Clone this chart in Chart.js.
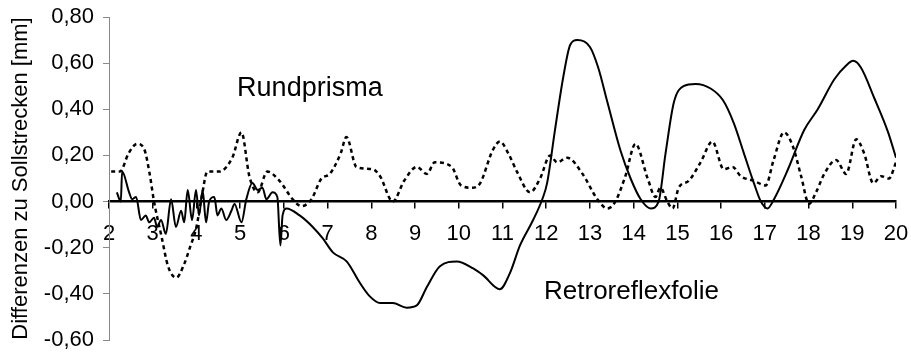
<!DOCTYPE html>
<html>
<head>
<meta charset="utf-8">
<script src="https://cdn.jsdelivr.net/npm/chart.js@4"></script>
<style>
  html, body { margin: 0; padding: 0; background: #fff; }
  #wrap { width: 911px; height: 354px; }
</style>
</head>
<body>
<div id="wrap"><canvas id="chart" width="911" height="354"></canvas></div>
<script>
// ----- data -----
const prismaX = [2.05, 2.25, 2.45, 2.64, 2.8, 2.93, 3.03, 3.2, 3.35, 3.54, 3.7, 3.85, 4.0, 4.12, 4.25, 4.52, 4.82, 5.03,
  5.21, 5.4, 5.62, 5.9, 6.2, 6.4, 6.63, 6.86, 7.05, 7.3, 7.43, 7.66, 8.03, 8.2, 8.49, 8.75, 9.04, 9.27, 9.45, 9.84,
  10.05, 10.3, 10.49, 10.77, 10.94, 11.13, 11.33, 11.63, 11.86, 12.09, 12.25, 12.48, 12.83, 13.17, 13.4, 13.58, 13.81,
  14.04, 14.32, 14.5, 14.61, 14.77, 14.89, 15.03, 15.26, 15.53, 15.8, 16.06, 16.26, 16.45, 16.75, 17.02, 17.2, 17.44,
  17.64, 17.83, 18.01, 18.17, 18.36, 18.63, 18.86, 19.09, 19.27, 19.48, 19.66, 19.84, 20.0];
const prismaY = [0.13, 0.13, 0.21, 0.25, 0.23, 0.12, 0.0, -0.15, -0.28, -0.33, -0.28, -0.2, -0.11, 0.02, 0.13, 0.13, 0.19, 0.30,
  0.11, 0.04, 0.13, 0.09, 0.01, -0.02, 0.01, 0.1, 0.12, 0.21, 0.28, 0.15, 0.14, 0.11, 0.0, 0.09, 0.15, 0.12, 0.17, 0.15,
  0.07, 0.06, 0.08, 0.22, 0.26, 0.21, 0.13, 0.04, 0.1, 0.2, 0.17, 0.19, 0.12, 0.01, -0.03, 0.0, 0.11,
  0.25, 0.1, 0.02, 0.06, 0.0, -0.03, 0.06, 0.09, 0.17, 0.26, 0.14, 0.15, 0.11, 0.09, 0.07, 0.18, 0.30,
  0.24, 0.11, -0.01, 0.04, 0.12, 0.18, 0.12, 0.27, 0.21, 0.08, 0.11, 0.1, 0.17];

const folieX = [2.18, 2.27, 2.3, 2.46, 2.53, 2.62, 2.73, 2.84, 2.92, 3.03, 3.1, 3.19, 3.3, 3.42, 3.53, 3.65, 3.72, 3.8,
  3.9, 3.99, 4.06, 4.14, 4.22, 4.29, 4.41, 4.48, 4.57, 4.68, 4.8, 4.87, 5.03, 5.14, 5.28, 5.4, 5.51, 5.6, 5.74, 5.85,
  5.92, 5.97, 6.06, 6.36, 6.66, 6.89, 7.12, 7.44, 7.73, 7.96, 8.2, 8.49, 8.81, 9.04, 9.27, 9.57, 9.95, 10.33, 10.56,
  10.94, 11.17, 11.4, 11.7, 11.91, 12.02, 12.2, 12.39, 12.55, 12.71, 13.0, 13.19, 13.4, 13.7, 13.93, 14.16, 14.39,
  14.57, 14.73, 14.92, 15.14, 15.42, 15.76, 16.04, 16.29, 16.52, 16.75, 16.91, 17.06, 17.21, 17.53, 17.9, 18.21,
  18.59, 18.86, 19.02, 19.2, 19.5, 19.82, 20.0];
const folieY = [0.04, 0.0, 0.13, 0.04, 0.01, 0.02, -0.08, -0.06, -0.09, -0.07, -0.11, -0.08, -0.14, 0.01, -0.11, -0.04, -0.09, 0.05,
  -0.08, 0.05, -0.06, 0.05, -0.09, 0.0, 0.02, -0.06, -0.03, -0.08, -0.04, -0.01, -0.09, 0.01, 0.08, 0.05, 0.06, 0.01, 0.04, 0.02,
  -0.19, -0.06, -0.03, -0.06, -0.11, -0.16, -0.22, -0.26, -0.35, -0.41, -0.44, -0.44, -0.46, -0.45, -0.37, -0.28, -0.26, -0.29, -0.32,
  -0.38, -0.31, -0.19, -0.08, 0.01, 0.08, 0.31, 0.54, 0.68, 0.70, 0.67, 0.58, 0.43, 0.22, 0.1, 0.01, -0.03,
  0.0, 0.21, 0.43, 0.50, 0.51, 0.49, 0.44, 0.34, 0.21, 0.08, 0.0, -0.03, 0.01, 0.14, 0.31, 0.40,
  0.53, 0.59, 0.61, 0.58, 0.45, 0.3, 0.19];

const seriesNames = ['Rundprisma', 'Retroreflexfolie'];
const yTitle = 'Differenzen zu Sollstrecken [mm]';

const fontFamily = "'Liberation Sans', Arial, Helvetica, sans-serif";

// zip x/y arrays into points
const toPoints = (xs, ys) => xs.map((x, i) => ({ x: x, y: ys[i] }));

// series names written inside the plot
const seriesLabels = {
  id: 'seriesLabels',
  afterDatasetsDraw(chart) {
    const { ctx, scales: { x, y } } = chart;
    ctx.save();
    ctx.fillStyle = '#000';
    ctx.textAlign = 'left';
    ctx.textBaseline = 'alphabetic';
    ctx.font = '27px ' + fontFamily;
    ctx.fillText(seriesNames[0], x.getPixelForValue(4.93), y.getPixelForValue(0.456));
    ctx.font = '26px ' + fontFamily;
    ctx.fillText(seriesNames[1], x.getPixelForValue(11.95), y.getPixelForValue(-0.422));
    ctx.restore();
  }
};

const ctx = document.getElementById('chart').getContext('2d');
new Chart(ctx, {
  type: 'line',
  data: {
    datasets: [
      {
        label: seriesNames[0],
        data: toPoints(prismaX, prismaY),
        borderColor: '#000',
        borderWidth: 2.5,
        borderDash: [4, 3.5],
        pointRadius: 0,
        cubicInterpolationMode: 'monotone',
        fill: false
      },
      {
        label: seriesNames[1],
        data: toPoints(folieX, folieY),
        borderColor: '#000',
        borderWidth: 2,
        pointRadius: 0,
        cubicInterpolationMode: 'monotone',
        fill: false
      }
    ]
  },
  options: {
    responsive: false,
    animation: false,
    events: [],
    layout: { padding: { top: 17, right: 15, bottom: 14, left: 0 } },
    plugins: {
      legend: { display: false },
      tooltip: { enabled: false }
    },
    scales: {
      x: {
        type: 'linear',
        position: { y: 0 },
        min: 2,
        max: 20,
        afterFit: (scale) => { scale.paddingLeft = 0; scale.paddingRight = 0; },
        ticks: {
          stepSize: 1,
          color: '#000',
          padding: 13,
          maxRotation: 0,
          font: { size: 22, family: fontFamily }
        },
        grid: {
          drawOnChartArea: false,
          drawTicks: true,
          tickLength: 6,
          color: '#000',
          lineWidth: 1.5
        },
        border: { display: true, color: '#000', width: 2.5 }
      },
      y: {
        type: 'linear',
        position: 'left',
        min: -0.6,
        max: 0.8,
        afterFit: (scale) => {
          scale.width = 109;
          scale.paddingTop = 0;
          scale.paddingBottom = 0;
        },
        ticks: {
          stepSize: 0.2,
          color: '#000',
          padding: 9,
          font: { size: 22, family: fontFamily },
          callback: (value) => value.toFixed(2).replace('.', ',').replace('-0,00', '0,00')
        },
        grid: {
          drawOnChartArea: false,
          drawTicks: true,
          tickLength: 6,
          color: '#888'
        },
        border: { display: true, color: '#888', width: 1 },
        title: {
          display: true,
          text: yTitle,
          color: '#000',
          padding: { top: 8, bottom: 0 },
          font: { size: 22, family: fontFamily }
        }
      }
    }
  },
  plugins: [seriesLabels]
});
</script>
</body>
</html>
